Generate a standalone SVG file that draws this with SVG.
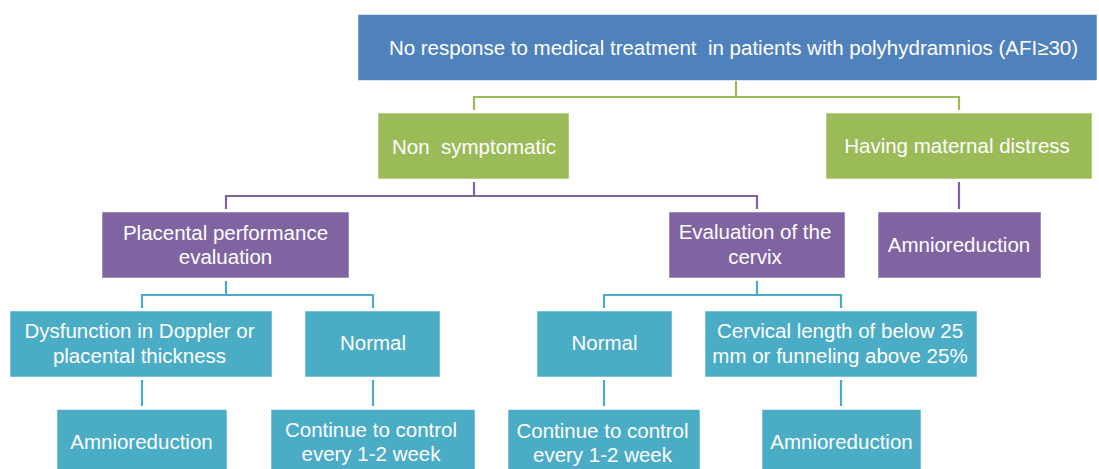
<svg xmlns="http://www.w3.org/2000/svg" width="1099" height="469" viewBox="0 0 1099 469">
<style>
.box{stroke:#ffffff;stroke-opacity:0.55;stroke-width:1}
.blue{fill:#4F81BD}.green{fill:#9BBB59}.purple{fill:#8064A2}.teal{fill:#4BACC6}
text{font-family:"Liberation Sans",Arial,sans-serif;font-size:20.5px;fill:#ffffff;text-anchor:middle}
.c{fill:none;stroke-width:2.2}
</style>
<rect width="1099" height="469" fill="#ffffff"/>
<g id="connectors">
<path class="c" stroke="#9BBB59" d="M474 110 V97 H959 V110 M736 81 V97"/>
<path class="c" stroke="#8064A2" d="M226 209 V196 H757 V209 M474 182 V196 M959 182 V209"/>
<path class="c" stroke="#4BACC6" d="M142 308 V295 H373 V308 M226 281 V295 M604 308 V295 H841 V308 M757 281 V295 M142 380 V406 M373 380 V406 M604 380 V406 M841 380 V406"/>
</g>
<g id="n-top"><rect class="box blue" x="358" y="14.5" width="739" height="66"/><text x="733.5" y="54.5" font-size="19.6" xml:space="preserve">No response to medical treatment  in patients with polyhydramnios (AFI≥30)</text></g>
<g id="n-nonsym"><rect class="box green" x="378" y="113" width="191" height="66"/><text x="474" y="153.5" xml:space="preserve">Non  symptomatic</text></g>
<g id="n-having"><rect class="box green" x="826" y="113" width="266" height="66"/><text x="957" y="153">Having maternal distress</text></g>
<g id="n-placental"><rect class="box purple" x="102" y="212" width="247" height="66"/><text x="225.5" y="239.5">Placental performance</text><text x="225.5" y="263.5">evaluation</text></g>
<g id="n-cervix"><rect class="box purple" x="669" y="212" width="176" height="66"/><text x="755" y="239">Evaluation of the</text><text x="755" y="263.5">cervix</text></g>
<g id="n-amnio1"><rect class="box purple" x="878" y="212" width="163" height="66"/><text x="959" y="251.5">Amnioreduction</text></g>
<g id="n-dysfunction"><rect class="box teal" x="10" y="311" width="262" height="66"/><text x="139.5" y="337.5">Dysfunction in Doppler or</text><text x="139.5" y="362.5">placental thickness</text></g>
<g id="n-normal1"><rect class="box teal" x="305" y="311" width="135" height="66"/><text x="373" y="350">Normal</text></g>
<g id="n-normal2"><rect class="box teal" x="537" y="311" width="135" height="66"/><text x="604.5" y="350">Normal</text></g>
<g id="n-cervical"><rect class="box teal" x="705" y="311" width="272" height="66"/><text x="840" y="337.5">Cervical length of below 25</text><text x="840" y="362.5">mm or funneling above 25%</text></g>
<g id="n-amnio2"><rect class="box teal" x="57" y="409.5" width="170" height="66"/><text x="141.5" y="448.5">Amnioreduction</text></g>
<g id="n-continue1"><rect class="box teal" x="271" y="409.5" width="204" height="66"/><text x="371" y="436.5">Continue to control</text><text x="371" y="460.5">every 1-2 week</text></g>
<g id="n-continue2"><rect class="box teal" x="508" y="409.5" width="192" height="66"/><text x="602.5" y="437.5">Continue to control</text><text x="602.5" y="461.5">every 1-2 week</text></g>
<g id="n-amnio3"><rect class="box teal" x="762" y="409.5" width="159" height="66"/><text x="841.5" y="448.5">Amnioreduction</text></g>
</svg>
